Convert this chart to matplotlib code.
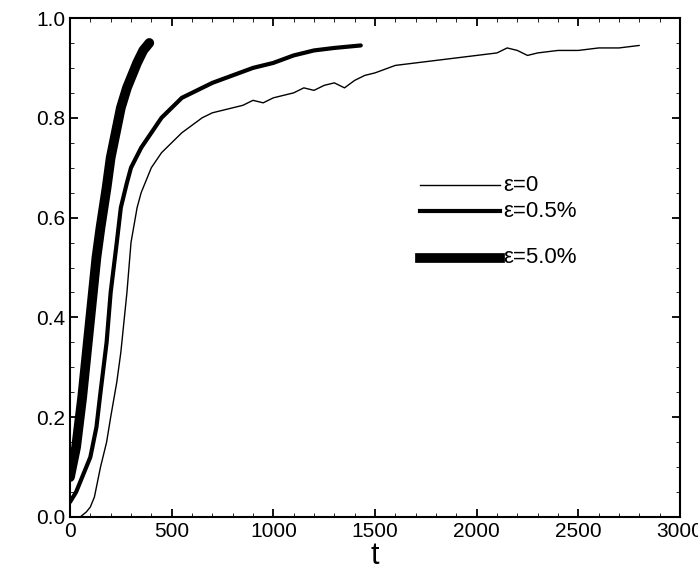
import matplotlib
matplotlib.use("Agg")
import matplotlib.pyplot as plt
plt.rcParams['font.family'] = ['Liberation Sans', 'DejaVu Sans']

t0 = [50, 80, 100, 120, 150, 180, 200, 230, 250, 280, 300, 330, 350, 380, 400, 450, 500, 550, 600, 650, 700, 750, 800, 850, 900, 950, 1000, 1050, 1100, 1150, 1200, 1250, 1300, 1350, 1400, 1450, 1500, 1600, 1700, 1800, 1900, 2000, 2100, 2150, 2200, 2250, 2300, 2400, 2500, 2600, 2700, 2800]
y0 = [0.0, 0.01, 0.02, 0.04, 0.10, 0.15, 0.20, 0.27, 0.33, 0.45, 0.55, 0.62, 0.65, 0.68, 0.70, 0.73, 0.75, 0.77, 0.785, 0.80, 0.81, 0.815, 0.82, 0.825, 0.835, 0.83, 0.84, 0.845, 0.85, 0.86, 0.855, 0.865, 0.87, 0.86, 0.875, 0.885, 0.89, 0.905, 0.91, 0.915, 0.92, 0.925, 0.93, 0.94, 0.935, 0.925, 0.93, 0.935, 0.935, 0.94, 0.94, 0.945]
t1 = [0, 30, 60, 100, 130, 150, 180, 200, 230, 250, 280, 300, 350, 400, 450, 500, 550, 600, 650, 700, 800, 900, 1000, 1100, 1200, 1300, 1430]
y1 = [0.03, 0.05, 0.08, 0.12, 0.18, 0.25, 0.35, 0.45, 0.55, 0.62, 0.67, 0.70, 0.74, 0.77, 0.80, 0.82, 0.84, 0.85, 0.86, 0.87, 0.885, 0.90, 0.91, 0.925, 0.935, 0.94, 0.945]
t2 = [0, 30, 60, 100, 130, 150, 180, 200, 230, 250, 280, 300, 330, 360, 390]
y2 = [0.08, 0.14, 0.24, 0.40, 0.52, 0.58, 0.66, 0.72, 0.78, 0.82, 0.86, 0.88, 0.91, 0.935, 0.95]
labels = ["ε=0", "ε=0.5%", "ε=5.0%"]
widths = [1.0, 3.0, 7.0]

fig = plt.figure(figsize=(6.98, 5.79), dpi=100)
ax = fig.add_axes([70/698, 1-517/579, 610/698, 499/579])
for t, y, w in zip([t0, t1, t2], [y0, y1, y2], widths):
    ax.plot(t, y, color="black", lw=w, solid_capstyle="round")
ax.set_xlim(0, 3000)
ax.set_ylim(0, 1.0)
ax.set_xticks(range(0, 3001, 500))
ax.set_yticks([0, 0.2, 0.4, 0.6, 0.8, 1.0])
ax.set_yticklabels(["0.0", "0.2", "0.4", "0.6", "0.8", "1.0"])
ax.minorticks_on()
ax.tick_params(which="both", direction="in", top=True, right=True, labelsize=15)
ax.tick_params(which="major", length=6, width=1.3)
ax.tick_params(which="minor", length=3)
for s in ax.spines.values():
    s.set_linewidth(1.5)
ax.set_xlabel("t", fontsize=22, labelpad=0)
for lab, w, yp in zip(labels, widths, [0.665, 0.613, 0.52]):
    ax.plot([0.573, 0.705], [yp, yp], transform=ax.transAxes, color="black", lw=w)
    ax.text(0.71, yp, lab, transform=ax.transAxes, fontsize=16, va="center")
fig.savefig("out.png")
